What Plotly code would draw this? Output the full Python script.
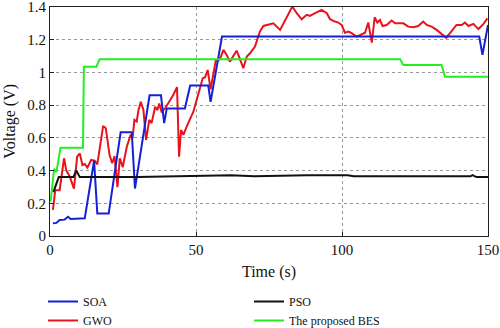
import plotly.graph_objects as go

# ---------------- data ----------------
soa_t = [1.0, 2.2, 3.3, 5.0, 6.2, 7.1, 11.9, 15.1, 16.2, 20.1, 24.2, 28.0, 29.1, 34.1, 38.0, 39.1, 40.0,
         46.2, 48.0, 54.2, 55.0, 58.9, 147.0, 148.1, 150.0]
soa_v = [0.078, 0.08, 0.098, 0.10, 0.118, 0.104, 0.108, 0.46, 0.137, 0.137, 0.634, 0.634, 0.29, 0.86, 0.86, 0.69, 0.78,
         0.78, 0.92, 0.92, 0.82, 1.219, 1.219, 1.107, 1.29]

gwo_t = [1.0, 1.8, 3.3, 4.8, 5.6, 6.7, 8.2, 9.3, 10.2, 11.1, 11.9, 12.8, 14.1, 15.3, 16.2, 18.2, 19.1, 20.4,
         21.3, 22.1, 23.1, 23.9, 24.9, 26.3, 27.6, 28.3, 28.9, 29.7, 30.3, 31.1, 32.0, 32.9, 34.0, 34.8,
         36.0, 36.8, 37.4, 38.2, 39.4, 40.9, 42.2, 43.5, 44.2, 44.9, 45.7, 46.8, 48.2, 49.1, 50.2, 51.4,
         52.3, 53.1, 54.0, 55.0, 55.9, 56.8, 57.6, 58.4, 59.4, 60.5, 61.6, 62.6, 63.9, 64.8, 66.2, 67.4,
         68.5, 70.2, 71.9, 73.1, 76.5, 78.8, 79.9, 83.0, 84.5, 86.2, 87.9, 89.0, 90.8, 93.0, 94.8, 95.9,
         97.6, 98.7, 99.9, 101.0, 102.2, 103.3, 105.0, 106.2, 107.9, 109.0, 110.2, 111.2, 112.1, 113.0,
         113.9, 115.3, 117.0, 118.2, 121.0, 122.7, 124.4, 126.1, 127.8, 129.0, 130.7, 132.4, 134.1,
         135.7, 137.0, 139.2, 141.0, 142.1, 143.3, 145.0, 146.7, 148.4, 149.8]
gwo_v = [0.16, 0.28, 0.28, 0.475, 0.40, 0.367, 0.29, 0.485, 0.505, 0.434, 0.44, 0.418, 0.465, 0.46, 0.438, 0.673,
         0.659, 0.495, 0.445, 0.489, 0.298, 0.475, 0.42, 0.546, 0.618, 0.60, 0.71, 0.70, 0.77, 0.82, 0.77,
         0.587, 0.71, 0.69, 0.79, 0.77, 0.81, 0.76, 0.78, 0.82, 0.862, 0.91, 0.485, 0.648, 0.618, 0.669,
         0.73, 0.76, 0.83, 0.90, 0.964, 0.97, 1.015, 0.897, 0.995, 1.076, 1.072, 1.09, 1.138, 1.107,
         1.066, 1.097, 1.133, 1.093, 1.026, 1.097, 1.117, 1.158, 1.25, 1.284, 1.30, 1.26, 1.30, 1.403,
         1.362, 1.325, 1.352, 1.346, 1.362, 1.382, 1.362, 1.325, 1.311, 1.305, 1.29, 1.243, 1.25, 1.24,
         1.219, 1.229, 1.243, 1.305, 1.182, 1.337, 1.305, 1.321, 1.284, 1.29, 1.317, 1.30, 1.30, 1.28,
         1.276, 1.284, 1.311, 1.29, 1.28, 1.26, 1.235, 1.212, 1.24, 1.29, 1.29, 1.305, 1.284, 1.297,
         1.265, 1.295, 1.33]

pso_t = [1.0, 1.4, 3.0, 8.0, 9.0, 10.2, 30.0, 40.0, 55.0, 62.0, 70.0, 88.0, 102.0, 104.0, 144.0, 144.7, 146.0, 150.0]
pso_v = [0.27, 0.28, 0.36, 0.36, 0.40, 0.36, 0.36, 0.365, 0.372, 0.372, 0.365, 0.372, 0.372, 0.365, 0.365, 0.372, 0.36, 0.36]

bes_t = [0.2, 1.4, 2.2, 3.6, 11.3, 11.6, 15.9, 17.0, 119.9, 121.0, 134.1, 135.3, 150.0]
bes_v = [0.21, 0.41, 0.39, 0.54, 0.54, 1.035, 1.035, 1.08, 1.08, 1.046, 1.046, 0.974, 0.974]

x_ticks = [0, 50, 100, 150]
y_ticks = [0, 0.2, 0.4, 0.6, 0.8, 1.0, 1.2, 1.4]
y_ticktext = ["0", "0.2", "0.4", "0.6", "0.8", "1", "1.2", "1.4"]

FONT = "Liberation Serif"

fig = go.Figure()
fig.add_trace(go.Scatter(x=gwo_t, y=gwo_v, mode="lines", name="GWO", legend="legend", legendrank=2,
                         line=dict(color="#e8141b", width=2)))
fig.add_trace(go.Scatter(x=soa_t, y=soa_v, mode="lines", name="SOA", legend="legend", legendrank=1,
                         line=dict(color="#1420d6", width=2)))
fig.add_trace(go.Scatter(x=pso_t, y=pso_v, mode="lines", name="PSO", legend="legend2", legendrank=1,
                         line=dict(color="#111111", width=2)))
fig.add_trace(go.Scatter(x=bes_t, y=bes_v, mode="lines", name="The proposed BES", legend="legend2", legendrank=2,
                         line=dict(color="#22ee22", width=2)))

axis_common = dict(showline=True, mirror=True, linecolor="#222", linewidth=1,
                   ticks="inside", ticklen=4, tickcolor="#222",
                   showgrid=True, gridcolor="#999", griddash="dot", gridwidth=1,
                   zeroline=False, ticklabeloverflow="allow",
                   tickfont=dict(family=FONT, size=15, color="#111"))

fig.update_xaxes(range=[0, 150], tickvals=x_ticks,
                 title=dict(text="Time (s)", font=dict(family=FONT, size=16, color="#111"), standoff=8),
                 **axis_common)
fig.update_yaxes(range=[0, 1.4], tickvals=y_ticks, ticktext=y_ticktext, **axis_common)

fig.add_annotation(text="Voltage (V)", xref="paper", yref="paper", x=-0.093, y=0.5,
                   textangle=-90, showarrow=False, xanchor="center", yanchor="middle",
                   font=dict(family=FONT, size=16, color="#111"))

leg_common = dict(orientation="v", xref="container", yref="container", yanchor="top", xanchor="left",
                  y=0.125, tracegroupgap=0,
                  font=dict(family=FONT, size=12, color="#111"), bgcolor="rgba(0,0,0,0)")

fig.update_layout(
    width=500, height=328,
    margin=dict(l=50, r=12, t=7, b=92, autoexpand=False),
    paper_bgcolor="white", plot_bgcolor="white",
    font=dict(family=FONT, size=13, color="#111"),
    legend=dict(x=0.086, **leg_common),
    legend2=dict(x=0.498, **leg_common),
    showlegend=True,
)

fig.write_html("out.html")
